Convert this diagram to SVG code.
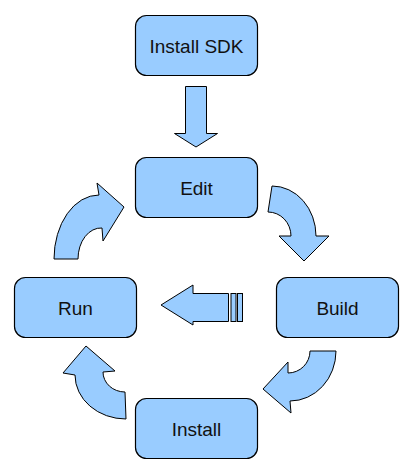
<svg xmlns="http://www.w3.org/2000/svg" width="410" height="476" viewBox="0 0 410 476">
<style>
.box{fill:#99ccff;stroke:#000;stroke-width:1.2}
.arr{fill:#99ccff;stroke:#000;stroke-width:1;stroke-linejoin:miter}
text{font-family:"Liberation Sans",Arial,sans-serif;font-size:19px;fill:#111;text-anchor:middle}
</style>
<rect width="410" height="476" fill="#fff"/>
<g id="install-sdk"><rect class="box" x="135.5" y="15.5" width="122" height="60" rx="11"/><text x="196.5" y="52.5">Install SDK</text></g>
<g id="edit"><rect class="box" x="135.5" y="157.5" width="122" height="60" rx="11"/><text x="196.5" y="194.5">Edit</text></g>
<g id="run"><rect class="box" x="14.5" y="277.5" width="122" height="60" rx="11"/><text x="75.5" y="314.5">Run</text></g>
<g id="build"><rect class="box" x="276.5" y="277.5" width="122" height="60" rx="11"/><text x="337.5" y="314.5">Build</text></g>
<g id="install"><rect class="box" x="135.5" y="398.5" width="122" height="60" rx="11"/><text x="196.5" y="435.5">Install</text></g>
<g id="connectors">
<path class="arr" d="M185.5,86.5 L206.5,86.5 L206.5,133.5 L217.5,133.5 L196,147 L174.5,133.5 L185.5,133.5 Z"/>
<path class="arr" d="M54,259 A45,64 0 0 1 99,195 L97,183 L124,207 L103,241 L102,228 A23,31 0 0 0 78,259 Z"/>
<path class="arr" d="M272,186 A44,50 0 0 1 316,236 L329,236 L304,261 L279,236 L291,236 A23,24 0 0 0 268,212 Z"/>
<path class="arr" d="M336,351 A46,50 0 0 1 290,401 L291,413 L263,389 L288,362 L288,373 A22,22 0 0 0 310,351 Z"/>
<path class="arr" d="M86,346 L115,371 L103,372 A22,20 0 0 0 125,392 L126,419 A51,44 0 0 1 75,375 L63,373 Z"/>
<path class="arr" d="M161,305 L193,285 L193,293.5 L228.5,293.5 L228.5,321.5 L193,321.5 L193,325 Z"/>
<rect class="arr" x="231" y="293.5" width="5" height="28"/>
<rect class="arr" x="237.5" y="293.5" width="5" height="28"/>
</g>
</svg>
